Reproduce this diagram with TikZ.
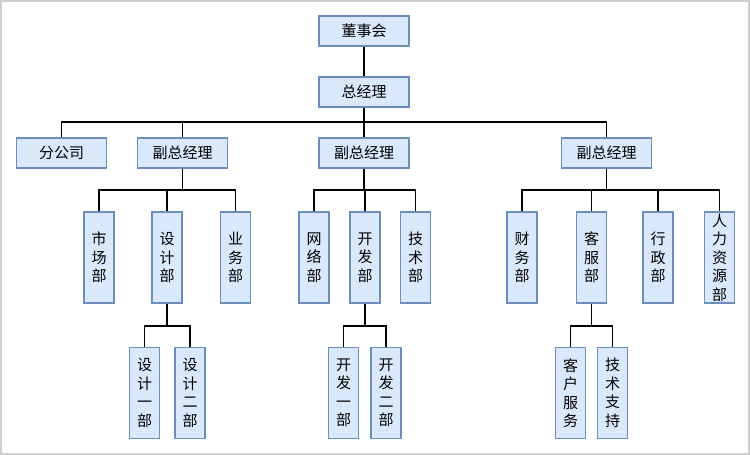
\documentclass[tikz,border=0pt]{standalone}
\usepackage{fontspec}
\newfontfamily\cjk{Noto Sans CJK SC}
\definecolor{boxfill}{HTML}{DAE8FC}
\definecolor{boxline}{HTML}{6C8EBF}
\definecolor{frame}{HTML}{CFCFCF}
\tikzset{
  box/.style={draw=boxline, fill=boxfill, line width=1.2pt, inner sep=0pt, align=center,
    font=\cjk\fontsize{15}{18.5}\selectfont},
  hbox/.style={box, minimum width=90pt, minimum height=30pt},
  vbox/.style={box, minimum width=30pt, minimum height=91pt},
  conn/.style={draw=black, line width=1.7pt},
}
\begin{document}
\begin{tikzpicture}[x=1pt,y=-1pt]
\useasboundingbox (0,0) rectangle (750,455);
\draw[frame, line width=2pt] (1,1) rectangle (749,454);
% bus levels
\coordinate (bmain) at (0,122);
\coordinate (bg) at (0,190);
\coordinate (bs) at (0,326);
% top
\node[hbox] (dsh) at (364,31) {董事会};
\node[hbox] (zjl) at (364,92) {总经理};
\node[hbox] (fgs) at (61.5,153) {分公司};
\node[hbox] (f1) at (182.5,153) {副总经理};
\node[hbox] (f2) at (364,153) {副总经理};
\node[hbox] (f3) at (606.5,153) {副总经理};
% group 1
\node[vbox] (scb) at (99,257.5) {市\\场\\部};
\node[vbox] (sjb) at (167,257.5) {设\\计\\部};
\node[vbox] (ywb) at (235.5,257.5) {业\\务\\部};
\node[vbox] (sj1) at (144.5,393) {设\\计\\一\\部};
\node[vbox] (sj2) at (190,393) {设\\计\\二\\部};
% group 2
\node[vbox] (wlb) at (314,257.5) {网\\络\\部};
\node[vbox] (kfb) at (365,257.5) {开\\发\\部};
\node[vbox] (jsb) at (415.5,257.5) {技\\术\\部};
\node[vbox] (kf1) at (343.5,393) {开\\发\\一\\部};
\node[vbox] (kf2) at (386,393) {开\\发\\二\\部};
% group 3
\node[vbox] (cwb) at (522,257.5) {财\\务\\部};
\node[vbox] (kfu) at (591.5,257.5) {客\\服\\部};
\node[vbox] (xzb) at (658,257.5) {行\\政\\部};
\node[vbox] (rlb) at (719.5,257.5) {人\\力\\资\\源\\部};
\node[vbox] (khf) at (570.5,393) {客\\户\\服\\务};
\node[vbox] (jzc) at (612.5,393) {技\\术\\支\\持};
% connectors
\draw[conn] (dsh.south) -- (zjl.north);
\foreach \c in {fgs,f1,f2,f3}
  \draw[conn] (zjl.south) -- (zjl.south |- bmain) -| (\c.north);
\foreach \c in {scb,sjb,ywb}
  \draw[conn] (f1.south) -- (f1.south |- bg) -| (\c.north);
\foreach \c in {wlb,kfb,jsb}
  \draw[conn] (f2.south) -- (f2.south |- bg) -| (\c.north);
\foreach \c in {cwb,kfu,xzb,rlb}
  \draw[conn] (f3.south) -- (f3.south |- bg) -| (\c.north);
\foreach \c in {sj1,sj2}
  \draw[conn] (sjb.south) -- (sjb.south |- bs) -| (\c.north);
\foreach \c in {kf1,kf2}
  \draw[conn] (kfb.south) -- (kfb.south |- bs) -| (\c.north);
\foreach \c in {khf,jzc}
  \draw[conn] (kfu.south) -- (kfu.south |- bs) -| (\c.north);
\end{tikzpicture}
\end{document}
